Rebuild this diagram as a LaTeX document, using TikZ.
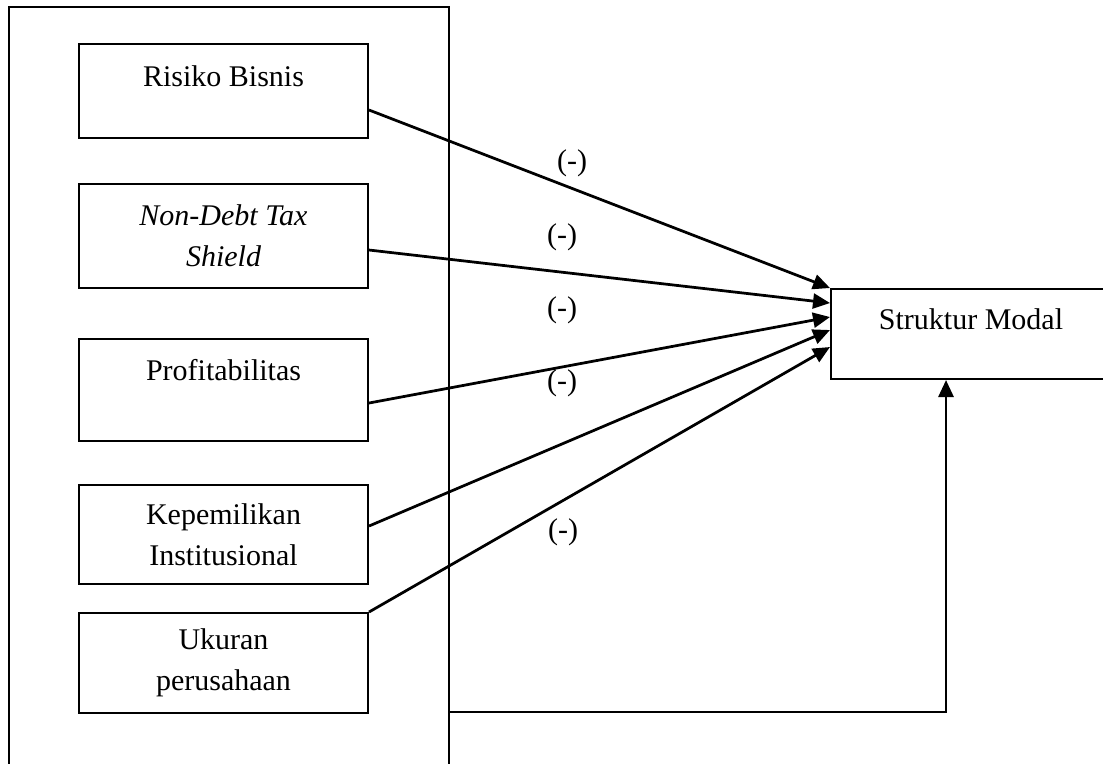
\documentclass[tikz,border=0pt]{standalone}
\usepackage{fontspec}
\setmainfont{Liberation Serif}
\usetikzlibrary{positioning,arrows.meta}

\begin{document}
\begin{tikzpicture}[x=0.4pt,y=-0.4pt,
  box/.style = {draw, line width=0.8pt, rectangle, minimum width=115.6pt, inner sep=0pt, align=center, font=\fontsize{12}{16.4}\selectfont},
  arr/.style = {line width=1.1pt, -{Triangle[length=6.8pt,width=6pt]}},
  sign/.style = {font=\fontsize{12}{16.4}\selectfont}]
\useasboundingbox (0,0) rectangle (1103,763);
\clip (0,0) rectangle (1103,763);
% outer frame
\draw[line width=0.8pt] (9,775) |- (449,7) -- (449,775);
\coordinate (fr) at (449,712);
\node[box, minimum height=37.6pt] (rb) at (223.5,91) {Risiko Bisnis\\[-4.4pt]~};
\node[box, minimum height=41.6pt] (ndts) [below=17.6pt of rb] {\itshape Non-Debt Tax\\\itshape Shield};
\node[box, minimum height=40.8pt] (prof) [below=19.6pt of ndts] {Profitabilitas\\~};
\node[box, minimum height=39.6pt] (kep) [below=16.8pt of prof] {Kepemilikan\\Institusional};
\node[box, minimum height=40pt] (uk) [below=10.8pt of kep] {Ukuran\\perusahaan};
\node[box, minimum width=112pt, minimum height=36pt] (sm) at (971,334) {Struktur Modal\\[-4.4pt]~};
\draw[arr] ([yshift=-7.6pt]rb.east) -- (sm.north west);
\draw[arr] ([yshift=-5.6pt]ndts.east) -- ([yshift=12.4pt]sm.west);
\draw[arr] ([yshift=-5.2pt]prof.east) -- ([yshift=6.8pt]sm.west);
\draw[arr] ([yshift=3.4pt]kep.east) -- ([yshift=1.6pt]sm.west);
\draw[arr] (uk.north east) -- ([yshift=-5.2pt]sm.west);
\draw[arr] (fr) -| ([xshift=-10pt]sm.south);
\node[sign] (s1) at (572,163) {(-)};
\node[sign] (s2) at (562,237) {(-)};
\node[sign] (s3) at (562,310) {(-)};
\node[sign] (s4) at (562,383) {(-)};
\node[sign] (s5) at (563,532) {(-)};
\end{tikzpicture}
\end{document}
